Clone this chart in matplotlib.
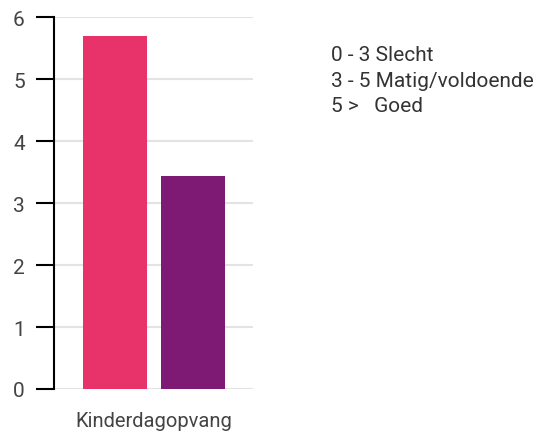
import matplotlib
matplotlib.use("Agg")
import matplotlib.pyplot as plt

categories = ["Kinderdagopvang"]
series_values = [5.7, 3.43]
colors = ["#E8336A", "#7E1A73"]
yticks = [0, 1, 2, 3, 4, 5, 6]
legend_lines = ["0 - 3 Slecht", "3 - 5 Matig/voldoende", "5 >   Goed"]

plt.rcParams['font.family'] = ['Roboto', 'DejaVu Sans']
fig = plt.figure(figsize=(5.39, 4.35), dpi=100)
ax = fig.add_axes([54/539, 45/435, (253-54)/539, (390-18)/435])

xs = list(range(len(series_values)))
ax.bar(xs, series_values, width=0.82, color=colors, zorder=3)
ax.set_xlim(-0.78, 1.77)
ax.set_ylim(0, 6)
ax.set_yticks(yticks)
ax.set_yticklabels([str(t) for t in yticks], fontsize=15, color="#444444")
ax.set_xticks([0.5])
ax.set_xticklabels(categories, fontsize=14.5, color="#444444")
ax.tick_params(axis='x', length=0, pad=16)
ax.tick_params(axis='y', length=13, width=1.5, color="black", pad=8)
ax.yaxis.grid(True, color="#e3e3e3", linewidth=1.5, zorder=0)
for s in ["top", "right", "bottom"]:
    ax.spines[s].set_visible(False)
ax.spines["left"].set_linewidth(1.5)
ax.spines["left"].set_color("black")

for i, line in enumerate(legend_lines):
    fig.text(331/539, 1 - (61.5 + i*25.3)/435, line, fontsize=15, color="#333333", va="baseline", ha="left")

fig.savefig("out.png", dpi=100)
